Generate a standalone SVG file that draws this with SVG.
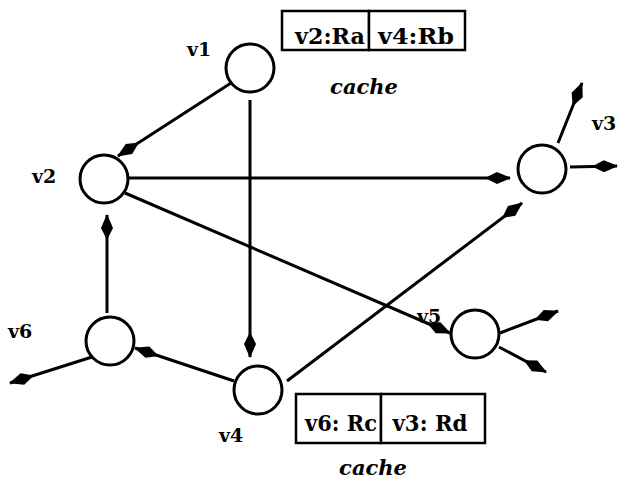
<svg xmlns="http://www.w3.org/2000/svg" width="619" height="482" viewBox="0 0 619 482">
<defs>
<style>
.node{fill:#fff;stroke:#000;stroke-width:3}
.edge{fill:none;stroke:#000;stroke-width:3;marker-end:url(#ah)}
.lbl{font-family:"DejaVu Serif","Liberation Serif",serif;font-weight:bold;font-size:19px;fill:#000}
.cell{fill:#fff;stroke:#000;stroke-width:2.5}
.ctext{font-family:"DejaVu Serif","Liberation Serif",serif;font-weight:bold;font-size:22px;fill:#000;text-anchor:middle}
.cap{font-family:"DejaVu Serif","Liberation Serif",serif;font-weight:bold;font-style:italic;font-size:21px;fill:#000;text-anchor:middle}
</style>
<marker id="ah" markerUnits="userSpaceOnUse" markerWidth="30" markerHeight="16" viewBox="-27 -8 29 16" refX="0" refY="0" orient="auto">
<path d="M1,0 L-13,-6 L-25,0 L-13,6 Z" fill="#000"/>
</marker>
</defs>
<rect width="619" height="482" fill="#fff"/>
<g id="connectors">
<line class="edge" x1="231" y1="83" x2="118" y2="156"/>
<line class="edge" x1="250" y1="100" x2="250" y2="357"/>
<line class="edge" x1="129" y1="178" x2="510" y2="178"/>
<line class="edge" x1="125" y1="193" x2="450" y2="333"/>
<line class="edge" x1="287" y1="381" x2="522" y2="203"/>
<line class="edge" x1="234" y1="381" x2="135" y2="348"/>
<line class="edge" x1="107" y1="313" x2="107" y2="215"/>
<line class="edge" x1="92" y1="357" x2="10" y2="383"/>
<line class="edge" x1="558" y1="143" x2="582" y2="83"/>
<line class="edge" x1="570" y1="167" x2="617" y2="166"/>
<line class="edge" x1="500" y1="333" x2="558" y2="311"/>
<line class="edge" x1="499" y1="347" x2="546" y2="372"/>
</g>
<g id="v1"><circle class="node" cx="250" cy="68" r="24"/><text class="lbl" x="187" y="56">v1</text></g>
<g id="v2"><circle class="node" cx="104" cy="179" r="24"/><text class="lbl" x="32" y="183">v2</text></g>
<g id="v3"><circle class="node" cx="542" cy="169" r="24"/><text class="lbl" x="592" y="130">v3</text></g>
<g id="v4"><circle class="node" cx="258" cy="390" r="24"/><text class="lbl" x="219" y="442">v4</text></g>
<g id="v5"><circle class="node" cx="475" cy="334" r="24"/><text class="lbl" x="417" y="323">v5</text></g>
<g id="v6"><circle class="node" cx="110" cy="341" r="24"/><text class="lbl" x="8" y="338">v6</text></g>
<g id="cache1">
<rect class="cell" x="282" y="11" width="87" height="39"/>
<rect class="cell" x="369" y="11" width="96" height="39"/>
<text class="ctext" x="330" y="44" textLength="70" lengthAdjust="spacingAndGlyphs">v2:Ra</text>
<text class="ctext" x="416" y="44" textLength="76" lengthAdjust="spacingAndGlyphs">v4:Rb</text>
<text class="cap" x="364" y="94">cache</text>
</g>
<g id="cache2">
<rect class="cell" x="296" y="394" width="85" height="49"/>
<rect class="cell" x="381" y="394" width="104" height="49"/>
<text class="ctext" x="341" y="431" textLength="72" lengthAdjust="spacingAndGlyphs">v6: Rc</text>
<text class="ctext" x="430" y="431" textLength="75" lengthAdjust="spacingAndGlyphs">v3: Rd</text>
<text class="cap" x="373" y="475">cache</text>
</g>
</svg>
